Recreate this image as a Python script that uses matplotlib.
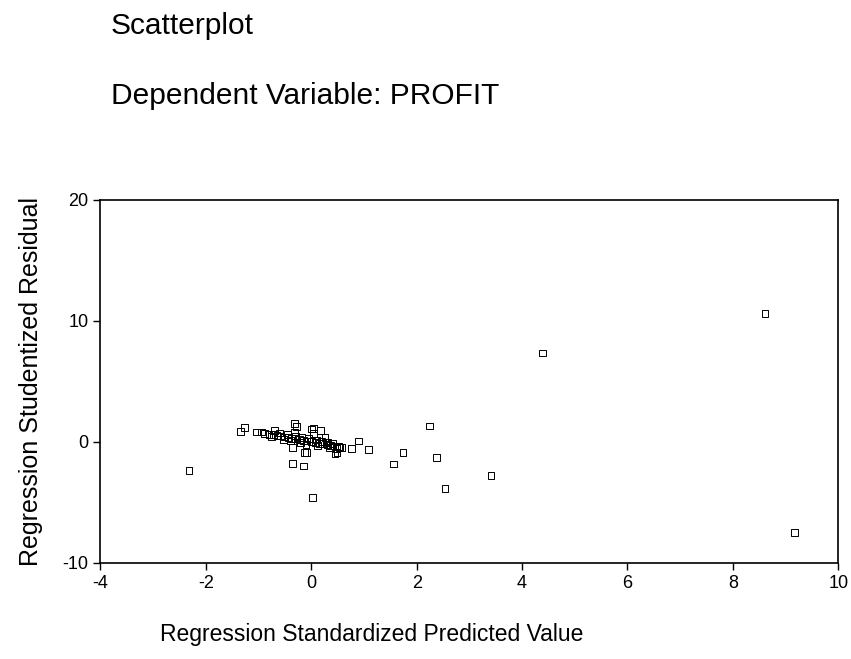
import matplotlib.pyplot as plt

plt.rcParams['font.family'] = ['Liberation Sans', 'DejaVu Sans']
plt.rcParams['axes.unicode_minus'] = False

# standardized predicted value vs studentized residual
pred_x = [8.61, 4.39, 9.17, 2.24, 1.74, 2.38, 1.56, 3.41, 2.54, 0.03,
          -2.32, -0.36, -0.15, -0.09, 1.09, 0.89, 0.77, 0.49, 0.54, 0.45,
          -1.34, -1.26, -1.04, -0.69, -0.31, -0.31, 0.01, 0.04, 0.26, 0.17,
          -0.28, 0.05, -0.36, -0.12,
          -0.88, -0.80, -0.72, -0.65, -0.58, -0.50, -0.44, -0.37, -0.30, -0.22,
          -0.15, -0.08, 0.00, 0.08, 0.15, 0.22, 0.30, 0.37, 0.44, 0.52,
          0.58, -0.60, -0.45, -0.30, -0.18, -0.05, 0.10, 0.20, 0.32, 0.40,
          -0.95, -0.40, -0.20, 0.12, 0.35, 0.48, -0.52, -0.10, 0.28, -0.75]
resid_y = [10.57, 7.33, -7.52, 1.30, -0.90, -1.30, -1.84, -2.77, -3.83, -4.61,
           -2.36, -1.77, -2.01, -0.90, -0.66, 0.07, -0.59, -0.90, -0.47, -0.98,
           0.83, 1.16, 0.81, 0.93, 1.52, 0.81, 1.05, 0.69, 0.33, 0.95,
           1.23, 1.11, -0.47, -0.86,
           0.69, 0.62, 0.58, 0.52, 0.47, 0.40, 0.36, 0.30, 0.25, 0.18,
           0.12, 0.06, 0.00, -0.06, -0.12, -0.17, -0.24, -0.30, -0.35, -0.42,
           -0.50, 0.72, 0.60, 0.48, 0.38, 0.28, 0.15, 0.05, -0.05, -0.12,
           0.80, 0.10, -0.05, -0.30, -0.45, -0.55, 0.20, -0.25, -0.02, 0.45]

fig = plt.figure(figsize=(8.51, 6.59), dpi=100)
ax = fig.add_axes([0.118, 0.146, 0.867, 0.551])

ax.scatter(pred_x, resid_y, marker='s', s=24, facecolors='none',
           edgecolors='black', linewidths=0.7)

ax.set_xlim(-4, 10)
ax.set_ylim(-10, 20)
ax.set_xticks([-4, -2, 0, 2, 4, 6, 8, 10])
ax.set_yticks([-10, 0, 10, 20])
ax.tick_params(direction='out', length=5, width=1, labelsize=13)
for s in ax.spines.values():
    s.set_linewidth(1.2)

ax.set_ylabel('Regression Studentized Residual', fontsize=18, labelpad=14)
fig.text(0.188, 0.028, 'Regression Standardized Predicted Value', fontsize=16.5)
fig.text(0.130, 0.960, 'Scatterplot', fontsize=21.5, va='center')
fig.text(0.130, 0.855, 'Dependent Variable: PROFIT', fontsize=21.5, va='center')

fig.savefig('out.png', dpi=100)
